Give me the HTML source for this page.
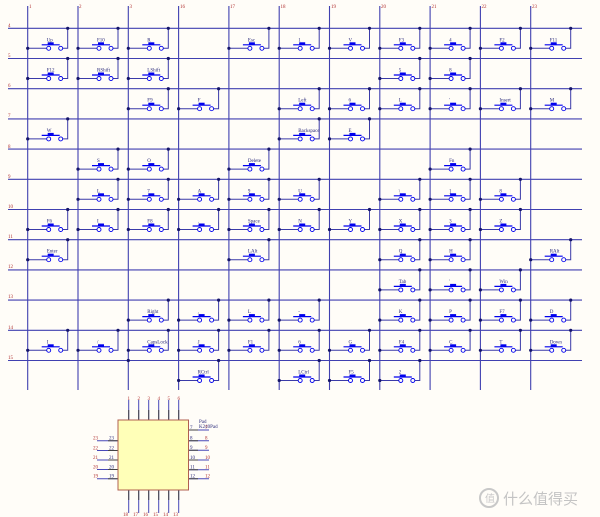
<!DOCTYPE html>
<html><head><meta charset="utf-8"><style>
html,body{margin:0;padding:0;background:#fffdf8}
svg{display:block}
text{font-family:"Liberation Serif",serif;font-size:5px;fill:#2a2a7a}
.r{fill:#b03030}
</style></head><body>
<svg width="600" height="517" viewBox="0 0 600 517" xmlns="http://www.w3.org/2000/svg">
<defs>
<g id="s">
<path d="M0 20H19M23 20M35 20H40V0" stroke="#3a3aa8" stroke-width="1" fill="none"/>
<circle cx="21" cy="20" r="2" fill="none" stroke="#0000ee" stroke-width="0.9"/>
<circle cx="33" cy="20" r="2" fill="none" stroke="#0000ee" stroke-width="0.9"/>
<path d="M14 16.5H32" stroke="#0000ee" stroke-width="1.2"/>
<rect x="20" y="14" width="6" height="2.2" fill="#0000ee"/>
<circle cx="0" cy="20" r="1.6" fill="#15156a"/>
<circle cx="40" cy="0" r="1.6" fill="#15156a"/>
</g>
</defs>
<g stroke="#4040b0" stroke-width="1.1">
<path d="M8 28.3H582M8 58.5H582M8 88.7H582M8 118.9H582M8 149.1H582M8 179.3H582M8 209.5H582M8 239.7H582M8 269.9H582M8 300.1H582M8 330.3H582M8 360.5H582"/>
<path d="M27.7 6V390M78 6V390M128.3 6V390M178.6 6V390M228.9 6V390M279.2 6V390M329.5 6V390M379.8 6V390M430.1 6V390M480.4 6V390M530.7 6V390"/>
</g>
<g class="r">
<text class="r" x="29" y="8">1</text><text class="r" x="79" y="8">2</text><text class="r" x="129.5" y="8">3</text><text class="r" x="180" y="8">16</text><text class="r" x="230" y="8">17</text><text class="r" x="280.5" y="8">18</text><text class="r" x="331" y="8">19</text><text class="r" x="381" y="8">20</text><text class="r" x="431.5" y="8">21</text><text class="r" x="481.5" y="8">22</text><text class="r" x="532" y="8">23</text>
<text class="r" x="8" y="27">4</text><text class="r" x="8" y="57">5</text><text class="r" x="8" y="87">6</text><text class="r" x="8" y="117">7</text><text class="r" x="8" y="148">8</text><text class="r" x="8" y="178">9</text><text class="r" x="8" y="208">10</text><text class="r" x="8" y="238">11</text><text class="r" x="8" y="268">12</text><text class="r" x="8" y="298">13</text><text class="r" x="8" y="329">14</text><text class="r" x="8" y="359">15</text>
</g>
<!-- row 4 -->
<g transform="translate(27.7,28.3)"><use href="#s"/><text x="19" y="13">Up</text></g>
<g transform="translate(78,28.3)"><use href="#s"/><text x="19" y="13">F10</text></g>
<g transform="translate(128.3,28.3)"><use href="#s"/><text x="19" y="13">R</text></g>
<g transform="translate(228.9,28.3)"><use href="#s"/><text x="19" y="13">Esc</text></g>
<g transform="translate(279.2,28.3)"><use href="#s"/><text x="19" y="13">1</text></g>
<g transform="translate(329.5,28.3)"><use href="#s"/><text x="19" y="13">V</text></g>
<g transform="translate(379.8,28.3)"><use href="#s"/><text x="19" y="13">F3</text></g>
<g transform="translate(430.1,28.3)"><use href="#s"/><text x="19" y="13">4</text></g>
<g transform="translate(480.4,28.3)"><use href="#s"/><text x="19" y="13">F2</text></g>
<g transform="translate(530.7,28.3)"><use href="#s"/><text x="19" y="13">F11</text></g>
<!-- row 5 -->
<g transform="translate(27.7,58.5)"><use href="#s"/><text x="19" y="13">F12</text></g>
<g transform="translate(78,58.5)"><use href="#s"/><text x="19" y="13">RShift</text></g>
<g transform="translate(128.3,58.5)"><use href="#s"/><text x="19" y="13">LShift</text></g>
<g transform="translate(379.8,58.5)"><use href="#s"/><text x="19" y="13">5</text></g>
<g transform="translate(430.1,58.5)"><use href="#s"/><text x="19" y="13">8</text></g>
<!-- row 6 -->
<g transform="translate(128.3,88.7)"><use href="#s"/><text x="19" y="13">F9</text></g>
<g transform="translate(178.6,88.7)"><use href="#s"/><text x="19" y="13">F</text></g>
<g transform="translate(279.2,88.7)"><use href="#s"/><text x="19" y="13">Left</text></g>
<g transform="translate(329.5,88.7)"><use href="#s"/><text x="19" y="13">6</text></g>
<g transform="translate(379.8,88.7)"><use href="#s"/><text x="19" y="13">L</text></g>
<g transform="translate(430.1,88.7)"><use href="#s"/><text x="19" y="13">'</text></g>
<g transform="translate(480.4,88.7)"><use href="#s"/><text x="19" y="13">Insert</text></g>
<g transform="translate(530.7,88.7)"><use href="#s"/><text x="19" y="13">M</text></g>
<!-- row 7 -->
<g transform="translate(27.7,118.9)"><use href="#s"/><text x="19" y="13">W</text></g>
<g transform="translate(279.2,118.9)"><use href="#s"/><text x="19" y="13">Backspace</text></g>
<g transform="translate(329.5,118.9)"><use href="#s"/><text x="19" y="13">E</text></g>
<!-- row 8 -->
<g transform="translate(78,149.1)"><use href="#s"/><text x="19" y="13">S</text></g>
<g transform="translate(128.3,149.1)"><use href="#s"/><text x="19" y="13">O</text></g>
<g transform="translate(228.9,149.1)"><use href="#s"/><text x="19" y="13">Delete</text></g>
<g transform="translate(430.1,149.1)"><use href="#s"/><text x="19" y="13">Fn</text></g>
<!-- row 9 -->
<g transform="translate(78,179.3)"><use href="#s"/><text x="19" y="13">L</text></g>
<g transform="translate(128.3,179.3)"><use href="#s"/><text x="19" y="13">7</text></g>
<g transform="translate(178.6,179.3)"><use href="#s"/><text x="19" y="13">A</text></g>
<g transform="translate(228.9,179.3)"><use href="#s"/><text x="19" y="13">9</text></g>
<g transform="translate(279.2,179.3)"><use href="#s"/><text x="19" y="13">U</text></g>
<g transform="translate(379.8,179.3)"><use href="#s"/><text x="19" y="13">\</text></g>
<g transform="translate(430.1,179.3)"><use href="#s"/><text x="19" y="13">]</text></g>
<g transform="translate(480.4,179.3)"><use href="#s"/><text x="19" y="13">8</text></g>
<!-- row 10 -->
<g transform="translate(27.7,209.5)"><use href="#s"/><text x="19" y="13">F6</text></g>
<g transform="translate(78,209.5)"><use href="#s"/><text x="19" y="13">I</text></g>
<g transform="translate(128.3,209.5)"><use href="#s"/><text x="19" y="13">F8</text></g>
<g transform="translate(178.6,209.5)"><use href="#s"/><text x="19" y="13">.</text></g>
<g transform="translate(228.9,209.5)"><use href="#s"/><text x="19" y="13">Space</text></g>
<g transform="translate(279.2,209.5)"><use href="#s"/><text x="19" y="13">N</text></g>
<g transform="translate(329.5,209.5)"><use href="#s"/><text x="19" y="13">Y</text></g>
<g transform="translate(379.8,209.5)"><use href="#s"/><text x="19" y="13">X</text></g>
<g transform="translate(430.1,209.5)"><use href="#s"/><text x="19" y="13">3</text></g>
<g transform="translate(480.4,209.5)"><use href="#s"/><text x="19" y="13">Z</text></g>
<!-- row 11 -->
<g transform="translate(27.7,239.7)"><use href="#s"/><text x="19" y="13">Enter</text></g>
<g transform="translate(228.9,239.7)"><use href="#s"/><text x="19" y="13">LAlt</text></g>
<g transform="translate(379.8,239.7)"><use href="#s"/><text x="19" y="13">Q</text></g>
<g transform="translate(430.1,239.7)"><use href="#s"/><text x="19" y="13">H</text></g>
<g transform="translate(530.7,239.7)"><use href="#s"/><text x="19" y="13">RAlt</text></g>
<!-- row 12 -->
<g transform="translate(379.8,269.9)"><use href="#s"/><text x="19" y="13">Tab</text></g>
<g transform="translate(430.1,269.9)"><use href="#s"/><text x="19" y="13">'</text></g>
<g transform="translate(480.4,269.9)"><use href="#s"/><text x="19" y="13">Win</text></g>
<!-- row 13 -->
<g transform="translate(128.3,300.1)"><use href="#s"/><text x="19" y="13">Right</text></g>
<g transform="translate(178.6,300.1)"><use href="#s"/><text x="19" y="13">,</text></g>
<g transform="translate(228.9,300.1)"><use href="#s"/><text x="19" y="13">L</text></g>
<g transform="translate(279.2,300.1)"><use href="#s"/><text x="19" y="13">-</text></g>
<g transform="translate(379.8,300.1)"><use href="#s"/><text x="19" y="13">K</text></g>
<g transform="translate(430.1,300.1)"><use href="#s"/><text x="19" y="13">P</text></g>
<g transform="translate(480.4,300.1)"><use href="#s"/><text x="19" y="13">F7</text></g>
<g transform="translate(530.7,300.1)"><use href="#s"/><text x="19" y="13">D</text></g>
<!-- row 14 -->
<g transform="translate(27.7,330.3)"><use href="#s"/><text x="19" y="13">I</text></g>
<g transform="translate(78,330.3)"><use href="#s"/><text x="19" y="13">/</text></g>
<g transform="translate(128.3,330.3)"><use href="#s"/><text x="19" y="13">CapsLock</text></g>
<g transform="translate(178.6,330.3)"><use href="#s"/><text x="19" y="13">J</text></g>
<g transform="translate(228.9,330.3)"><use href="#s"/><text x="19" y="13">F1</text></g>
<g transform="translate(279.2,330.3)"><use href="#s"/><text x="19" y="13">6</text></g>
<g transform="translate(329.5,330.3)"><use href="#s"/><text x="19" y="13">G</text></g>
<g transform="translate(379.8,330.3)"><use href="#s"/><text x="19" y="13">F4</text></g>
<g transform="translate(430.1,330.3)"><use href="#s"/><text x="19" y="13">C</text></g>
<g transform="translate(480.4,330.3)"><use href="#s"/><text x="19" y="13">T</text></g>
<g transform="translate(530.7,330.3)"><use href="#s"/><text x="19" y="13">Down</text></g>
<!-- row 15 -->
<g transform="translate(178.6,360.5)"><use href="#s"/><text x="19" y="13">RCtrl</text></g>
<g transform="translate(279.2,360.5)"><use href="#s"/><text x="19" y="13">LCtrl</text></g>
<g transform="translate(329.5,360.5)"><use href="#s"/><text x="19" y="13">F5</text></g>
<g transform="translate(379.8,360.5)"><use href="#s"/><text x="19" y="13">2</text></g>
<circle cx="128.3" cy="360.5" r="1.6" fill="#15156a"/>

<!-- chip -->
<g stroke-width="1">
<path d="M128.7 400V420M138.7 400V420M148.7 400V420M158.7 400V420M168.7 400V420M178.7 400V420M128.7 490V513M138.7 490V513M148.7 490V513M158.7 490V513M168.7 490V513M178.7 490V513M97 440.7H118M97 450.5H118M97 460H118M97 469.5H118M97 478.7H118M188 430H209M188 440.7H209M188 450.3H209M188 460H209M188 469.7H209M188 478.7H209" stroke="#4848b8"/>
<path d="M128.7 410V420M138.7 410V420M148.7 410V420M158.7 410V420M168.7 410V420M178.7 410V420M128.7 490V500M138.7 490V500M148.7 490V500M158.7 490V500M168.7 490V500M178.7 490V500M108 440.7H118M108 450.5H118M108 460H118M108 469.5H118M108 478.7H118M188 430H198M188 440.7H198M188 450.3H198M188 460H198M188 469.7H198M188 478.7H198" stroke="#444"/>
</g>
<rect x="118" y="420" width="70.5" height="70" fill="#ffffb8" stroke="#b06050" stroke-width="1"/>
<g>
<text class="r" x="127.5" y="400">1</text><text class="r" x="137.5" y="400">2</text><text class="r" x="147.5" y="400">3</text><text class="r" x="157.5" y="400">4</text><text class="r" x="167.5" y="400">5</text><text class="r" x="177.5" y="400">6</text>
<text x="199" y="423">Pad</text><text x="199" y="428">K240Pad</text>
<text x="190" y="429">7</text><text class="r" x="205" y="429">7</text>
<text x="190" y="439.5">8</text><text class="r" x="205" y="439.5">8</text>
<text x="190" y="449">9</text><text class="r" x="205" y="449">9</text>
<text x="190" y="459">10</text><text class="r" x="205" y="459">10</text>
<text x="190" y="468.5">11</text><text class="r" x="205" y="468.5">11</text>
<text x="190" y="477.5">12</text><text class="r" x="205" y="477.5">12</text>
<text x="109" y="439.5">23</text><text class="r" x="93" y="439.5">23</text>
<text x="109" y="449.5">22</text><text class="r" x="93" y="449.5">22</text>
<text x="109" y="459">21</text><text class="r" x="93" y="459">21</text>
<text x="109" y="468.5">20</text><text class="r" x="93" y="468.5">20</text>
<text x="109" y="477.5">19</text><text class="r" x="93" y="477.5">19</text>
<text class="r" x="123" y="516">18</text><text class="r" x="133" y="516">17</text><text class="r" x="143" y="516">16</text><text class="r" x="153" y="516">15</text><text class="r" x="163" y="516">14</text><text class="r" x="173" y="516">13</text>
</g>
<!-- watermark -->
<circle cx="489" cy="498" r="9" fill="none" stroke="#c8c8c8" stroke-width="2"/>
<text x="485" y="502" style="font-size:10px;fill:#c8c8c8;font-family:'Liberation Sans',sans-serif">值</text>
<text x="503" y="504" style="font-size:15px;fill:#c4c4c4;font-family:'Liberation Sans','Noto Sans CJK SC',sans-serif">什么值得买</text>
</svg>
</body></html>
